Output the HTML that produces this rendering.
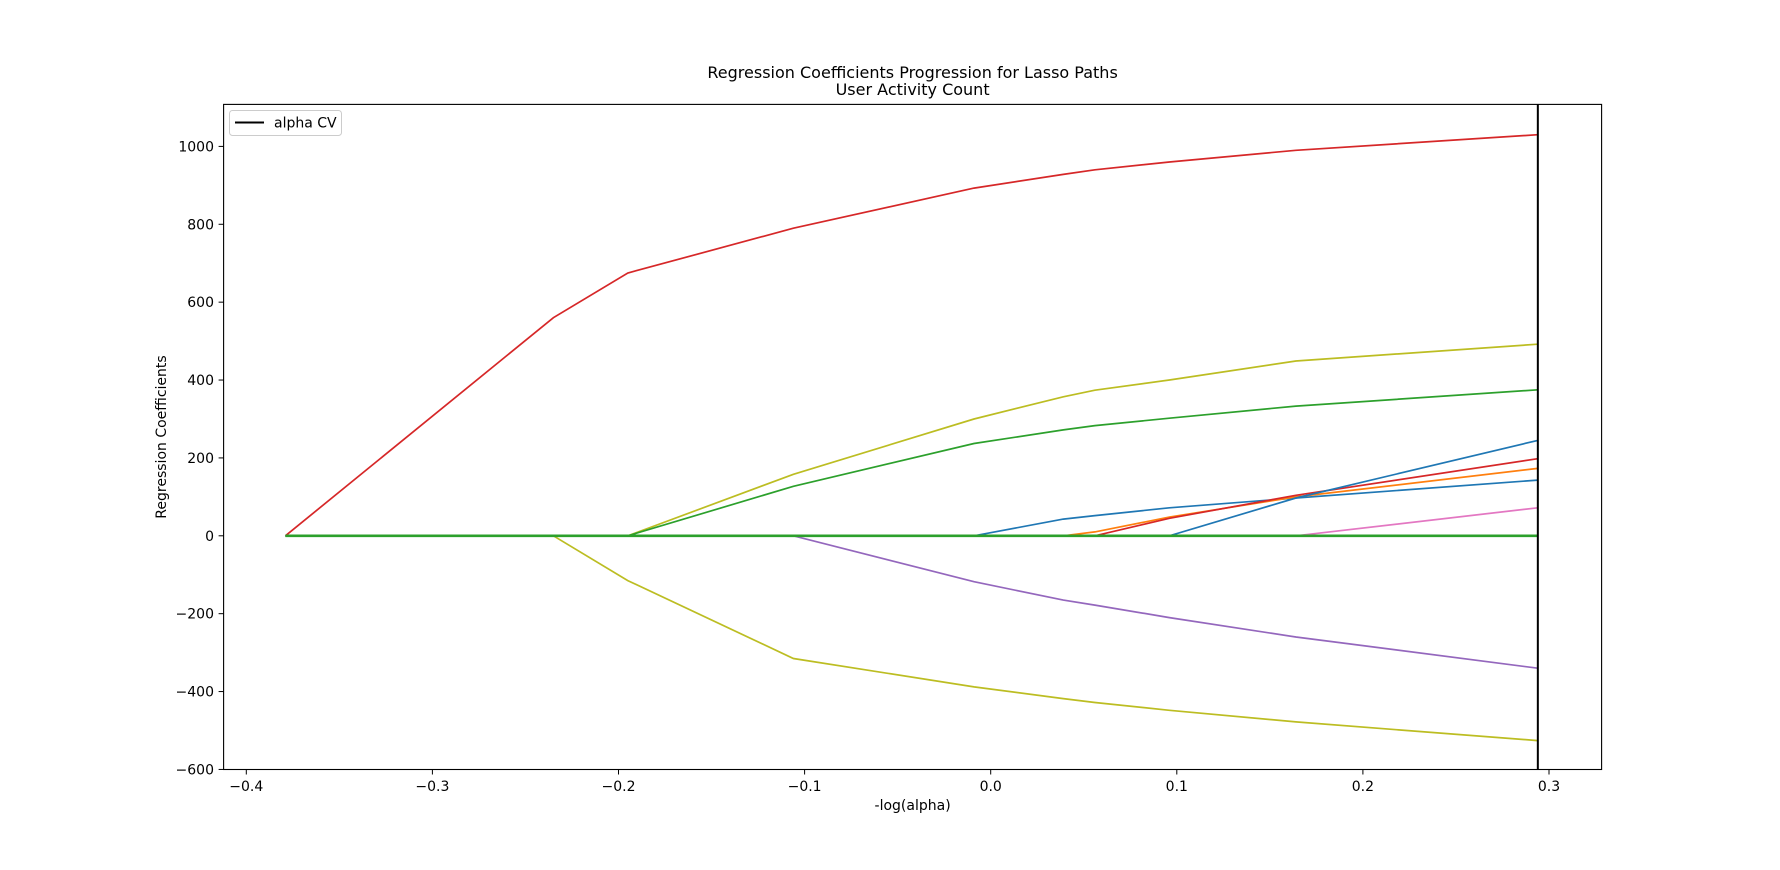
<!DOCTYPE html>
<html><head><meta charset="utf-8"><style>
html,body{margin:0;padding:0;background:#fff;}
svg text{font-family:"DejaVu Sans","Liberation Sans",sans-serif;fill:#000;}
</style></head><body>
<svg id="chart" width="1780" height="865" xmlns="http://www.w3.org/2000/svg">
<rect width="1780" height="865" fill="#fff"/>
<text x="912.6" y="78" font-size="16" text-anchor="middle">Regression Coefficients Progression for Lasso Paths</text>
<text x="912.6" y="95" font-size="16" text-anchor="middle">User Activity Count</text>
<g id="plot"></g>
<rect x="223.6" y="104.4" width="1378" height="665.1" fill="none" stroke="#000" stroke-width="1.1"/>
<text x="912.6" y="810" font-size="14" text-anchor="middle">-log(alpha)</text>
<text transform="translate(166,437) rotate(-90)" font-size="14" text-anchor="middle">Regression Coefficients</text>
<g>
<rect x="229.5" y="110.5" width="112" height="25" rx="3" fill="#fff" stroke="#ccc"/>
<line x1="235" y1="122.5" x2="264" y2="122.5" stroke="#000" stroke-width="2"/>
<text x="274" y="127.5" font-size="14">alpha CV</text>
</g>
</svg>
<script>
const xs = [-0.379,-0.235,-0.195,-0.106,-0.009,0.039,0.056,0.096,0.164,0.294];
const seriesRed1    = [0,560,675,790,893,928,940,960,990,1030];
const seriesOlive1  = [0,0,0,158,300,357,374,400,449,492];
const seriesGreen1  = [0,0,0,127,237,272,283,302,333,375];
const seriesBlue1   = [0,0,0,0,0,43,52,72,97,143];
const seriesOrange  = [0,0,0,0,0,0,10,48,100,173];
const seriesRed2    = [0,0,0,0,0,0,0,45,104,198];
const seriesBlue2   = [0,0,0,0,0,0,0,0,97,245];
const seriesPink    = [0,0,0,0,0,0,0,0,0,72];
const seriesPurple  = [0,0,0,0,-118,-165,-178,-210,-260,-340];
const seriesOlive2  = [0,0,-115,-315,-388,-418,-428,-448,-478,-526];
const seriesZero    = [0,0,0,0,0,0,0,0,0,0];
const alphaCV = 0.294;
const xTicks = [-0.4,-0.3,-0.2,-0.1,0.0,0.1,0.2,0.3];
const xTickLabels = ["\u22120.4","\u22120.3","\u22120.2","\u22120.1","0.0","0.1","0.2","0.3"];
const yTicks = [-600,-400,-200,0,200,400,600,800,1000];
const yTickLabels = ["\u2212600","\u2212400","\u2212200","0","200","400","600","800","1000"];

const NS="http://www.w3.org/2000/svg";
const X = v => 246.3 + (v + 0.4) * 1861;
const Y = v => 535.8 - v * 0.3894;
const g = document.getElementById('plot');
function mk(t,a){const e=document.createElementNS(NS,t);for(const k in a)e.setAttribute(k,a[k]);return e;}

const ser = [
 ['coef-path-red-1',seriesRed1,'#d62728'],
 ['coef-path-olive-1',seriesOlive1,'#bcbd22'],
 ['coef-path-green-1',seriesGreen1,'#2ca02c'],
 ['coef-path-blue-1',seriesBlue1,'#1f77b4'],
 ['coef-path-orange',seriesOrange,'#ff7f0e'],
 ['coef-path-red-2',seriesRed2,'#d62728'],
 ['coef-path-blue-2',seriesBlue2,'#1f77b4'],
 ['coef-path-pink',seriesPink,'#e377c2'],
 ['coef-path-purple',seriesPurple,'#9467bd'],
 ['coef-path-olive-2',seriesOlive2,'#bcbd22'],
 ['coef-path-zero',seriesZero,'#2ca02c']
];
ser.forEach(([name,vals,col],i)=>{
  const pts = vals.map((v,j)=>X(xs[j]).toFixed(1)+','+Y(v).toFixed(1)).join(' ');
  const p = mk('polyline',{points:pts,fill:'none',stroke:col,'stroke-width':i===ser.length-1?2.6:1.7});
  
  
  g.appendChild(p);
});
const vl = mk('line',{x1:X(alphaCV),x2:X(alphaCV),y1:104.4,y2:769.5,stroke:'#000','stroke-width':2});


g.appendChild(vl);

xTicks.forEach((t,i)=>{
  const x=X(t);
  const l=mk('line',{x1:x,x2:x,y1:769.5,y2:774.5,stroke:'#000'});
  
  
  g.appendChild(l);
  const tx=mk('text',{x:x,y:791,'font-size':14,'text-anchor':'middle'});
  tx.textContent=xTickLabels[i];
  
  
  g.appendChild(tx);
});
yTicks.forEach((t,i)=>{
  const y=Y(t);
  const l=mk('line',{x1:218.6,x2:223.6,y1:y,y2:y,stroke:'#000'});
  
  
  g.appendChild(l);
  const tx=mk('text',{x:214,y:y+5,'font-size':14,'text-anchor':'end'});
  tx.textContent=yTickLabels[i];
  
  
  g.appendChild(tx);
});
</script>
</body></html>
